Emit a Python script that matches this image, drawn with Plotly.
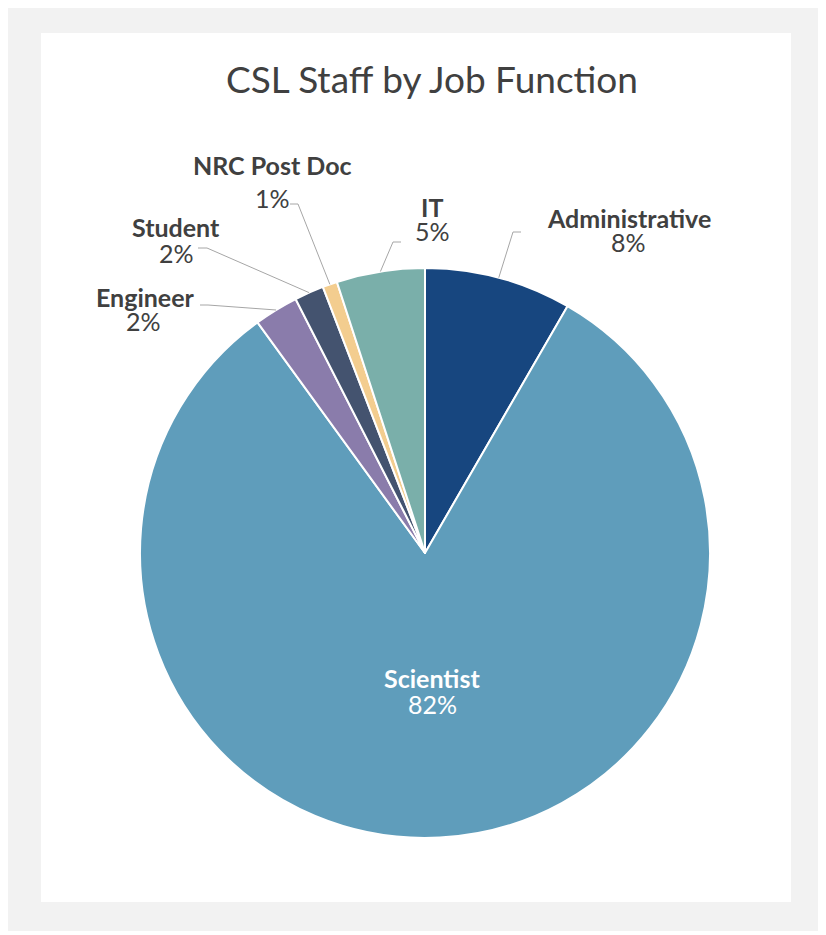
import math
import plotly.graph_objects as go

# ---------------- data ----------------
categories = ["Administrative", "Scientist", "Engineer", "Student", "NRC Post Doc", "IT"]
staff_counts = [20, 196, 6, 4, 2, 12]
slice_colors = ["#17467F", "#5F9DBB", "#8A7CAB", "#44536F", "#F3CD8F", "#7AAFAA"]

# ---------------- layout constants (page pixels) ----------------
W, H = 826, 935
OFF = 8  # default page body margin
CX, CY, R = 425, 553, 285

name_pos = {
    "Administrative": (629, 218),
    "IT": (432, 207),
    "NRC Post Doc": (272, 165),
    "Student": (176, 227),
    "Engineer": (145, 297),
}
pct_pos = {
    "Administrative": (628, 242),
    "IT": (432, 231),
    "NRC Post Doc": (272, 198),
    "Student": (176, 253),
    "Engineer": (143, 321),
}
leader = {
    "Administrative": [(513, 232), (521, 232)],
    "IT": [(393, 242), (401, 242)],
    "NRC Post Doc": [(298, 204), (290, 204)],
    "Student": [(207, 248), (198, 248)],
    "Engineer": [(208, 305), (200, 305)],
}
INSIDE_R = 0.48
FS = 25


def px(x):
    return (x - OFF) / W


def py(y):
    return 1 - (y - OFF) / H


total = sum(staff_counts)
pct_text = [f"{round(100 * v / total)}%" for v in staff_counts]

fig = go.Figure()
fig.add_trace(go.Pie(
    labels=categories,
    values=staff_counts,
    sort=False,
    direction="clockwise",
    rotation=0,
    marker=dict(colors=slice_colors, line=dict(color="white", width=2)),
    textinfo="none",
    hoverinfo="label+percent",
    showlegend=False,
    domain=dict(x=[px(CX - R), px(CX + R)], y=[py(CY + R), py(CY - R)]),
))

shapes = [
    dict(type="rect", xref="paper", yref="paper", x0=px(4), x1=px(840), y0=py(931), y1=py(3),
         fillcolor="#F2F2F2", line=dict(width=0), layer="below"),
    dict(type="rect", xref="paper", yref="paper", x0=px(41), x1=px(791), y0=py(902), y1=py(33),
         fillcolor="white", line=dict(width=0), layer="below"),
]
annotations = []

label_font = dict(family="Lato", size=FS, color="#404040")
inside_font = dict(family="Lato", size=FS, color="white")
cum = 0.0
for cat, v, p in zip(categories, staff_counts, pct_text):
    a0 = cum / total * 2 * math.pi
    cum += v
    a1 = cum / total * 2 * math.pi
    mid = (a0 + a1) / 2
    if cat == "Scientist":
        mx = CX + INSIDE_R * R * math.sin(mid)
        my = CY - INSIDE_R * R * math.cos(mid)
        annotations.append(dict(x=px(mx), y=py(my - 12), xref="paper", yref="paper",
                                xanchor="center", yanchor="middle",
                                text=f"<b>{cat}</b>", showarrow=False, font=inside_font))
        annotations.append(dict(x=px(mx), y=py(my + 14), xref="paper", yref="paper",
                                xanchor="center", yanchor="middle",
                                text=p, showarrow=False, font=inside_font))
        continue
    ex = CX + R * math.sin(mid)
    ey = CY - R * math.cos(mid)
    pts = [(ex, ey)] + leader[cat]
    path = "M " + " L ".join(f"{px(x)},{py(y)}" for x, y in pts)
    shapes.append(dict(type="path", xref="paper", yref="paper", path=path,
                       line=dict(color="#A6A6A6", width=1)))
    nx, ny = name_pos[cat]
    annotations.append(dict(x=px(nx), y=py(ny), xref="paper", yref="paper",
                            xanchor="center", yanchor="middle",
                            text=f"<b>{cat}</b>", showarrow=False, font=label_font))
    qx, qy = pct_pos[cat]
    annotations.append(dict(x=px(qx), y=py(qy), xref="paper", yref="paper",
                            xanchor="center", yanchor="middle",
                            text=p, showarrow=False, font=label_font))

fig.update_layout(
    width=W, height=H,
    margin=dict(l=0, r=0, t=0, b=0),
    paper_bgcolor="white",
    title=dict(text="CSL Staff by Job Function", x=px(432), xanchor="center",
               y=py(80), yanchor="middle", yref="container",
               font=dict(family="Lato", size=37, color="#404040")),
    shapes=shapes,
    annotations=annotations,
)

fig.write_html("out.html")
